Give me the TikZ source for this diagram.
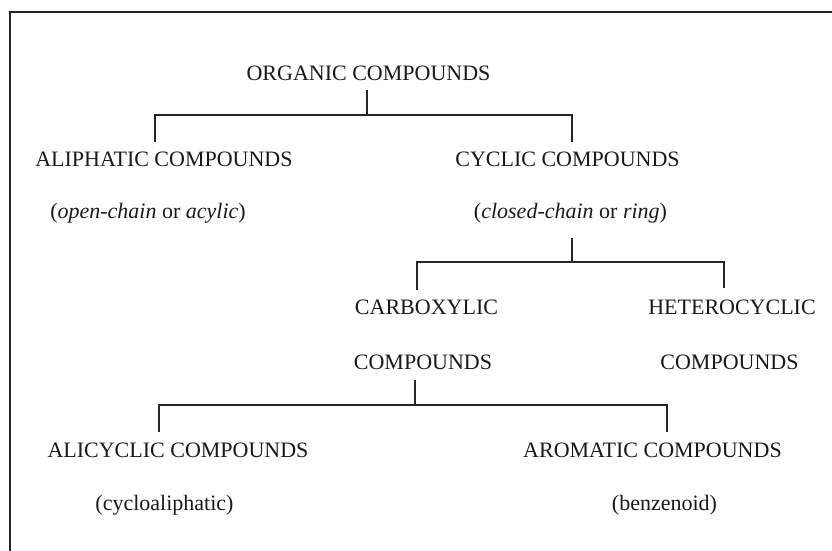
\documentclass[tikz,border=0pt]{standalone}
\usepackage{fontspec}
\setmainfont{Liberation Serif}
\begin{document}
\begin{tikzpicture}[x=1pt,y=-1pt,
  lbl/.style={font=\fontsize{22}{26}\selectfont, inner sep=0pt, anchor=base, text=black!90},
  frameline/.style={line width=1.6pt, black!85},
  treeline/.style={line width=1.1pt, black!85}]
\useasboundingbox (0,0) rectangle (832,551);
% frame (top and left edges)
\coordinate (ftl) at (10,12);
\coordinate (ftr) at (832,12);
\coordinate (fbl) at (10,551);
\draw[frameline] (ftr) -- (ftl) -- (fbl);
% text nodes
\node[lbl] (org) at (368.5,80) {ORGANIC COMPOUNDS};
\node[lbl] (aliph) at (164,166) {ALIPHATIC COMPOUNDS};
\node[lbl] (aliphsub) at (148,218) {(\textit{open-chain} or \textit{acylic})};
\node[lbl] (cyclic) at (567.5,166) {CYCLIC COMPOUNDS};
\node[lbl] (cyclicsub) at (570.5,218) {(\textit{closed-chain} or \textit{ring})};
\node[lbl] (carb) at (426.5,314) {CARBOXYLIC};
\node[lbl] (carbb) at (423,369) {COMPOUNDS};
\node[lbl] (het) at (732,314) {HETEROCYCLIC};
\node[lbl] (hetb) at (729.5,369) {COMPOUNDS};
\node[lbl] (alicyc) at (178,457) {ALICYCLIC COMPOUNDS};
\node[lbl] (alicycsub) at (164.5,510) {(cycloaliphatic)};
\node[lbl] (arom) at (652.5,457) {AROMATIC COMPOUNDS};
\node[lbl] (aromsub) at (664.5,510) {(benzenoid)};
% level 1 tree
\coordinate (s1t) at (367,90);
\coordinate (s1b) at (367,115);
\coordinate (b1l) at (155,115);
\coordinate (b1r) at (572,115);
\coordinate (d1l) at (155,142);
\coordinate (d1r) at (572,142);
\draw[treeline] (s1t) -- (s1b);
\draw[treeline] (d1l) -- (b1l) -- (b1r) -- (d1r);
% level 2 tree
\coordinate (s2t) at (572,238);
\coordinate (s2b) at (572,262);
\coordinate (b2l) at (417,262);
\coordinate (b2r) at (724,262);
\coordinate (d2l) at (417,290);
\coordinate (d2r) at (724,288);
\draw[treeline] (s2t) -- (s2b);
\draw[treeline] (d2l) -- (b2l) -- (b2r) -- (d2r);
% level 3 tree
\coordinate (s3t) at (415,380);
\coordinate (s3b) at (415,405);
\coordinate (b3l) at (159,405);
\coordinate (b3r) at (667,405);
\coordinate (d3l) at (159,432);
\coordinate (d3r) at (667,432);
\draw[treeline] (s3t) -- (s3b);
\draw[treeline] (d3l) -- (b3l) -- (b3r) -- (d3r);
\end{tikzpicture}
\end{document}
